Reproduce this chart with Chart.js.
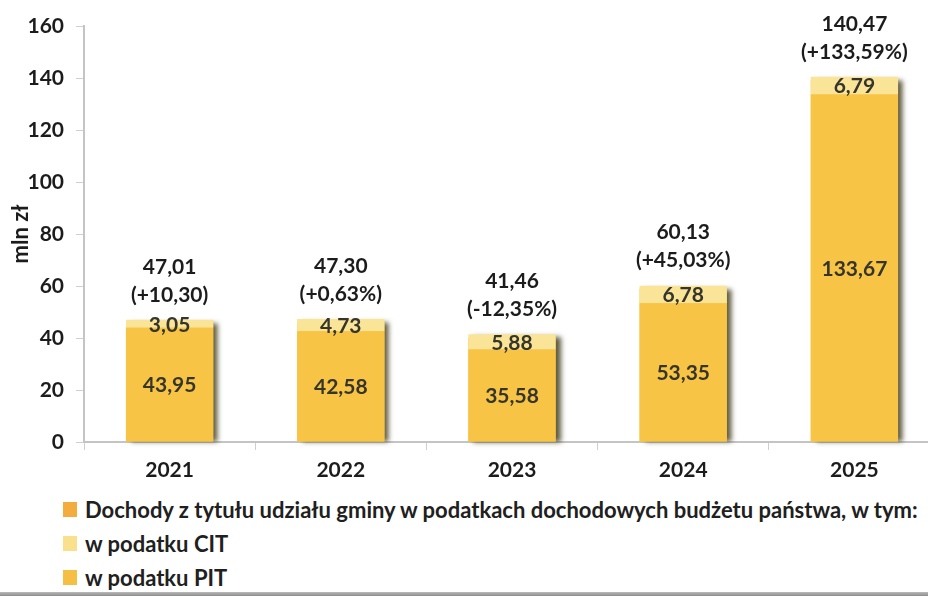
<!DOCTYPE html>
<html lang="pl">
<head>
<meta charset="utf-8">
<script src="https://cdn.jsdelivr.net/npm/chart.js@4/dist/chart.umd.min.js"></script>
<style>
    html, body { margin: 0; padding: 0; background: #fff; overflow: hidden; width: 928px; height: 598px; }
    #chart-box { position: absolute; left: 0; top: 0; width: 940px; height: 490px; }
    #legend-container { position: absolute; left: 63px; top: 492px; }
    #scan-edge { position: absolute; left: 0; top: 592px; width: 928px; height: 4px; background: linear-gradient(#b9b9b9, #8d8d8d); }
</style>
</head>
<body>
<div id="chart-box"><canvas id="bar-chart"></canvas></div>
<div id="legend-container"></div>
<div id="scan-edge"></div>
<script>
    const years = ['2021', '2022', '2023', '2024', '2025'];
    const pitValues = [43.95, 42.58, 35.58, 53.35, 133.67];
    const citValues = [3.05, 4.73, 5.88, 6.78, 6.79];
    const totalValues = [47.01, 47.30, 41.46, 60.13, 140.47];
    const changeLabels = ['(+10,30)', '(+0,63%)', '(-12,35%)', '(+45,03%)', '(+133,59%)'];
    const yTicks = [0, 20, 40, 60, 80, 100, 120, 140, 160];

    const legendItems = [
        {text: 'Dochody z tytułu udziału gminy w podatkach dochodowych budżetu państwa, w tym:', color: '#F3AC3E'},
        {text: 'w podatku CIT', color: '#F8E08C'},
        {text: 'w podatku PIT', color: '#F5BF43'},
    ];

    const fmt = (v) => v.toFixed(2).replace('.', ',');

    // legenda w HTML, jedna pozycja pod drugą
    const legendBox = document.getElementById('legend-container');
    legendItems.forEach((item) => {
        const row = document.createElement('div');
        row.style.display = 'flex';
        row.style.alignItems = 'center';
        row.style.height = '34px';
        const box = document.createElement('span');
        box.style.display = 'inline-block';
        box.style.width = '14px';
        box.style.height = '15px';
        box.style.background = item.color;
        box.style.marginRight = '8px';
        const label = document.createElement('span');
        label.textContent = item.text;
        label.style.font = 'bold 22px Lato';
        label.style.color = '#202020';
        row.appendChild(box);
        row.appendChild(label);
        legendBox.appendChild(row);
    });

    // cień po prawej stronie całego słupka
    const barShadow = {
        id: 'barShadow',
        beforeDatasetsDraw(chart) {
            const ctx = chart.ctx;
            const bottomMeta = chart.getDatasetMeta(0);
            const topMeta = chart.getDatasetMeta(chart.data.datasets.length - 1);
            ctx.save();
            ctx.shadowColor = 'rgba(55, 50, 15, 0.8)';
            ctx.shadowBlur = 5;
            ctx.shadowOffsetX = 5;
            ctx.shadowOffsetY = 0;
            ctx.fillStyle = '#F8C445';
            bottomMeta.data.forEach((bar, i) => {
                const top = topMeta.data[i].y;
                ctx.fillRect(bar.x - bar.width / 2, top + 3, bar.width, bar.base - top - 3);
            });
            ctx.restore();
        }
    };

    const valueLabels = {
        id: 'valueLabels',
        afterDatasetsDraw(chart) {
            const ctx = chart.ctx;
            ctx.save();
            ctx.textAlign = 'center';
            ctx.textBaseline = 'middle';
            ctx.font = 'bold 21px Lato';
            chart.data.datasets.forEach((ds, di) => {
                const meta = chart.getDatasetMeta(di);
                meta.data.forEach((bar, i) => {
                    ctx.fillStyle = '#35352c';
                    ctx.fillText(fmt(ds.data[i]), bar.x, (bar.y + bar.base) / 2 + 1);
                });
            });
            const topMeta = chart.getDatasetMeta(chart.data.datasets.length - 1);
            topMeta.data.forEach((bar, i) => {
                ctx.fillStyle = '#1c1c1c';
                ctx.fillText(fmt(totalValues[i]), bar.x, bar.y - 53);
                ctx.fillText(changeLabels[i], bar.x, bar.y - 25);
            });
            ctx.restore();
        }
    };

    new Chart(document.getElementById('bar-chart'), {
        type: 'bar',
        data: {
            labels: years,
            datasets: [
                {label: 'w podatku PIT', data: pitValues, backgroundColor: '#F8C445', barPercentage: 0.51, categoryPercentage: 1},
                {label: 'w podatku CIT', data: citValues, backgroundColor: '#FAE497', barPercentage: 0.51, categoryPercentage: 1},
            ]
        },
        options: {
            responsive: true,
            maintainAspectRatio: false,
            animation: false,
            layout: {padding: {top: 26, right: 0, bottom: 0, left: 0}},
            plugins: {
                legend: {display: false},
                tooltip: {enabled: false},
            },
            scales: {
                x: {
                    stacked: true,
                    grid: {drawOnChartArea: false, tickLength: 8, color: '#cfcfcf'},
                    border: {color: '#c4c4c4', width: 2},
                    ticks: {font: {family: 'Lato', size: 21, weight: 'bold'}, color: '#1c1c1c', padding: 8},
                    afterFit(scale) { scale.height = 48; },
                },
                y: {
                    stacked: true,
                    min: 0,
                    max: 160,
                    afterBuildTicks(scale) { scale.ticks = yTicks.map((v) => ({value: v})); },
                    grid: {drawOnChartArea: false, tickLength: 8, color: '#cfcfcf'},
                    border: {color: '#c4c4c4', width: 2},
                    ticks: {font: {family: 'Lato', size: 21, weight: 'bold'}, color: '#1c1c1c', padding: 12},
                    title: {display: true, text: 'mln zł', font: {family: 'Lato', size: 22, weight: 'bold'}, color: '#1c1c1c', padding: {top: 8, bottom: 0}},
                    afterFit(scale) { scale.width = 84; },
                }
            }
        },
        plugins: [barShadow, valueLabels],
    });
</script>
</body>
</html>
